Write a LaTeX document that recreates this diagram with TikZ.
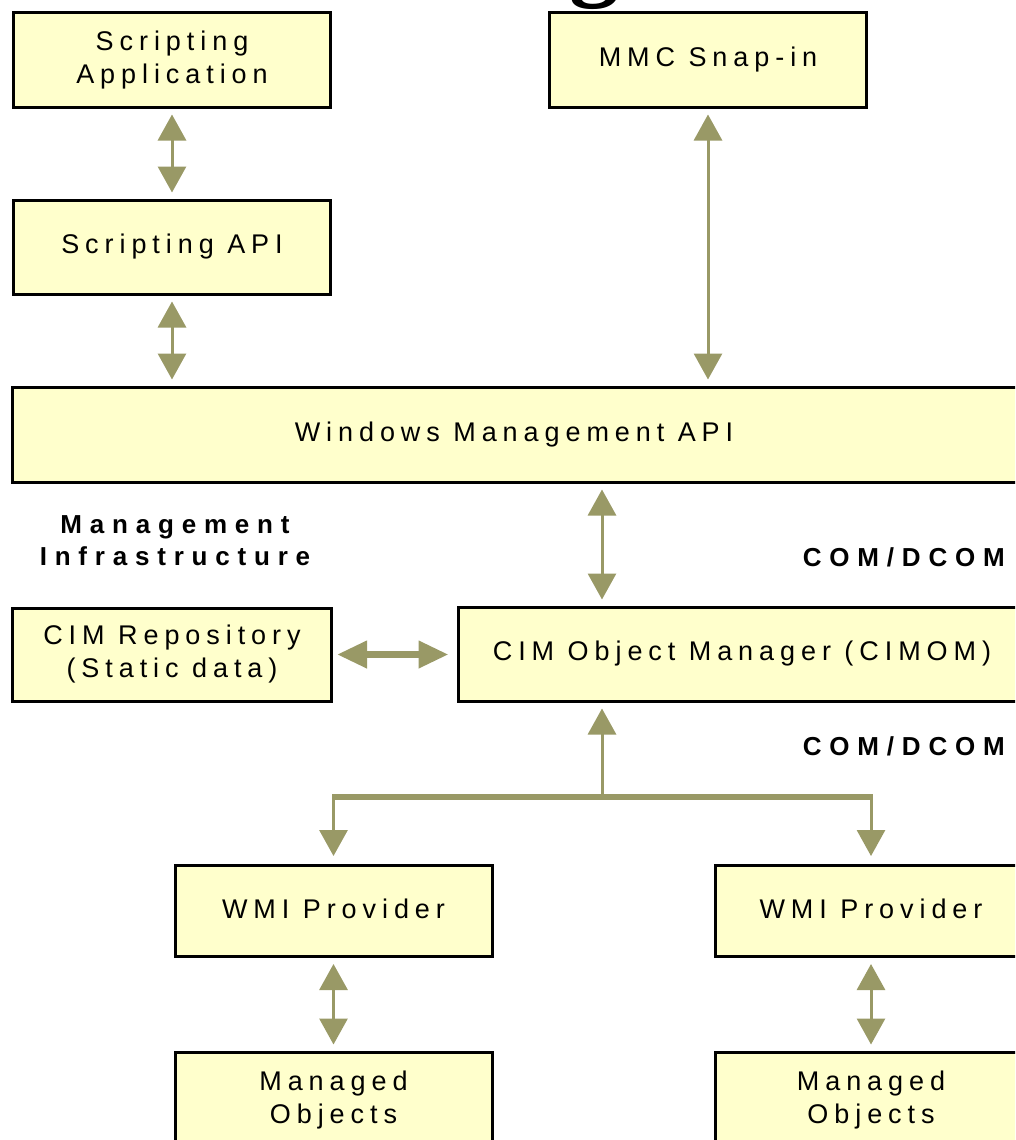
\documentclass[tikz,border=0pt]{standalone}
\usepackage{fontspec}
\newfontfamily\pix[LetterSpace=22]{Liberation Sans}
\newfontfamily\pixb[LetterSpace=30]{Liberation Sans}
\newfontfamily\titlefont{Liberation Serif}
\usetikzlibrary{arrows.meta}
\definecolor{boxfill}{HTML}{FFFFCC}
\definecolor{arr}{HTML}{999966}
\tikzset{
  box/.style={draw=black, fill=boxfill, line width=3pt, rectangle, inner sep=0pt,
    font=\pix\fontsize{27pt}{33pt}\selectfont, align=center},
  lbl/.style={inner sep=0pt, font=\pixb\bfseries\fontsize{26pt}{32pt}\selectfont, align=center},
  dbl/.style={draw=arr, line width=3pt,
    {Triangle[width=28pt,length=26pt]}-{Triangle[width=28pt,length=26pt]},
    shorten <=6pt, shorten >=6pt},
  dblthick/.style={draw=arr, line width=7pt,
    {Triangle[width=26pt,length=30pt]}-{Triangle[width=26pt,length=30pt]}},
  single/.style={draw=arr, line width=3pt, -{Triangle[width=28pt,length=26pt]}},
  busline/.style={draw=arr, line width=6pt}
}
\begin{document}
\begin{tikzpicture}[x=1pt,y=-1pt]
\useasboundingbox (0,0) rectangle (1015,1140);
\clip (0,0) rectangle (1015,1140);
\fill[white] (0,0) rectangle (1015,1140);
% cut-off title glyph
\node[anchor=south, inner sep=0pt, font=\titlefont\bfseries\fontsize{100pt}{110pt}\selectfont] (title) at (594,10) {g};
% boxes
\node[box, minimum width=317pt, minimum height=94pt] (sa) at (172,60) {Scripting\\Application};
\node[box, minimum width=317pt, minimum height=94pt] (mmc) at (708,60) {MMC Snap-in};
\node[box, minimum width=317pt, minimum height=94pt] (sapi) at (172,247) {Scripting API};
\node[box, minimum width=1017pt, minimum height=95pt] (wma) at (521,434.5) {\hspace*{-14pt}Windows Management API};
\node[box, minimum width=319pt, minimum height=93pt] (repo) at (172,654.5) {CIM Repository\\(Static data)};
\node[box, minimum width=572pt, minimum height=94pt] (cimom) at (744,654) {\hspace*{-4pt}CIM Object Manager (CIMOM)};
\node[box, minimum width=317pt, minimum height=91pt] (wp1) at (333.5,911) {\raisebox{4pt}{WMI Provider}};
\node[box, minimum width=312pt, minimum height=91pt] (wp2) at (871,911) {\raisebox{4pt}{WMI Provider}};
\node[box, minimum width=317pt, minimum height=100pt] (mo1) at (333.5,1102) {\raisebox{27pt}{\parbox{300pt}{\centering Managed\\Objects}}};
\node[box, minimum width=312pt, minimum height=100pt] (mo2) at (871,1102) {\raisebox{27pt}{\parbox{300pt}{\centering Managed\\Objects}}};
% labels
\node[lbl] (mi) at (175,541) {Management\\Infrastructure};
\node[lbl, anchor=east] (com1) at (1005,557) {COM/DCOM};
\node[lbl, anchor=east] (com2) at (1005,746) {COM/DCOM};
% connectors
\draw[dbl] (sa.south) -- (sapi.north);
\draw[dbl] (sapi.south) -- (sapi.south |- wma.north);
\draw[dbl] (mmc.south) -- (mmc.south |- wma.north);
\coordinate (mid) at (602,797);
\draw[dbl] (wma.south -| mid) -- (cimom.north -| mid);
\draw[dblthick, shorten <=4pt, shorten >=8pt] (repo.east) -- (repo.east -| cimom.west);
\draw[single, shorten >=6pt] (mid) -- (cimom.south -| mid);
\draw[busline] ([xshift=-1.5pt]wp1.north |- mid) -- ([xshift=1.5pt]wp2.north |- mid);
\draw[single, shorten >=8pt] (wp1.north |- mid) -- (wp1.north);
\draw[single, shorten >=8pt] (wp2.north |- mid) -- (wp2.north);
\draw[dbl] (wp1.south) -- (mo1.north);
\draw[dbl] (wp2.south) -- (mo2.north);
\end{tikzpicture}
\end{document}
